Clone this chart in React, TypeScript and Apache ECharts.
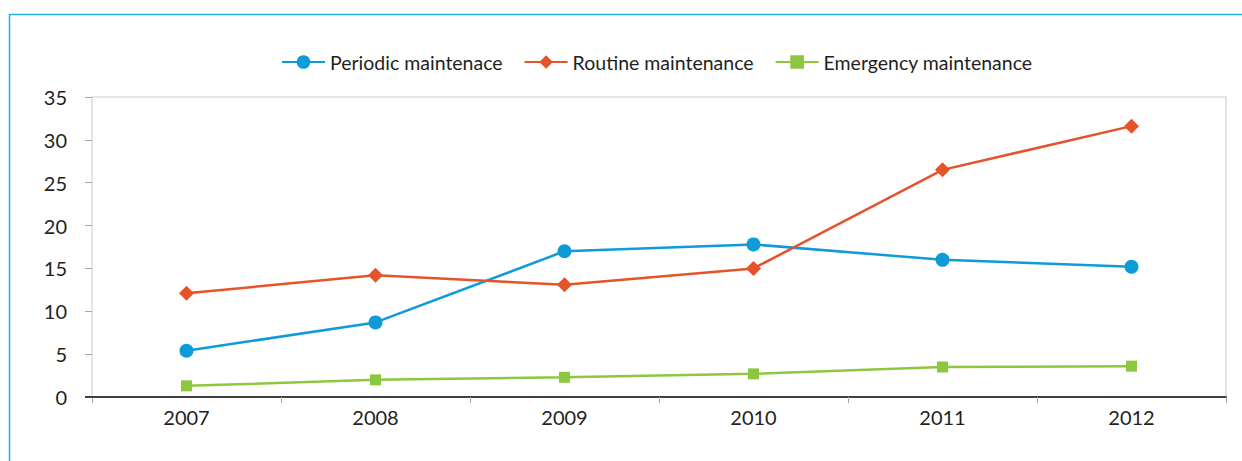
import React, { useEffect, useRef } from "react";
import * as echarts from "echarts";

const years = ["2007", "2008", "2009", "2010", "2011", "2012"];
const periodic = [5.4, 8.7, 17.0, 17.8, 16.0, 15.2];
const routine = [12.1, 14.2, 13.1, 15.0, 26.5, 31.6];
const emergency = [1.3, 2.0, 2.3, 2.7, 3.5, 3.6];
const seriesNames = ["Periodic maintenace", "Routine maintenance", "Emergency maintenance"];

const FONT = "Lato";
const TEXT = "#231f20";

export default function App() {
  const ref = useRef<HTMLDivElement>(null);
  useEffect(() => {
    const chart = echarts.init(ref.current!, null, { renderer: "svg" });
    chart.setOption({
      animation: false,
      textStyle: { fontFamily: FONT },
      graphic: [
        { type: "line", shape: { x1: 9.5, y1: 14, x2: 9.5, y2: 461 }, style: { stroke: "#25b4e0", lineWidth: 1.5 } },
        { type: "line", shape: { x1: 9, y1: 14.5, x2: 1242, y2: 14.5 }, style: { stroke: "#25b4e0", lineWidth: 1.5 } },
        { type: "line", shape: { x1: 85, y1: 397, x2: 93, y2: 397 }, style: { stroke: "#404040", lineWidth: 2 }, z: 100 },
      ],
      legend: {
        top: 47,
        left: 276,
        itemWidth: 43,
        itemHeight: 17,
        itemGap: 21,
        textStyle: { fontFamily: FONT, fontSize: 19.5, color: TEXT },
        data: seriesNames,
      },
      grid: {
        left: 92,
        right: 16,
        top: 97,
        bottom: 64,
        show: true,
        borderColor: "#dcdcdc",
        borderWidth: 1.5,
        containLabel: false,
      },
      xAxis: {
        type: "category",
        data: years,
        boundaryGap: true,
        axisLine: { lineStyle: { color: "#404040", width: 2 } },
        axisTick: { show: true, length: 6, lineStyle: { color: "#a6a6a6" } },
        axisLabel: { fontFamily: FONT, fontSize: 20, color: TEXT, margin: 10 },
        splitLine: { show: false },
      },
      yAxis: {
        type: "value",
        min: 0,
        max: 35,
        interval: 5,
        axisLine: { show: false },
        axisTick: { show: true, length: 7, lineStyle: { color: "#a6a6a6" } },
        axisLabel: { fontFamily: FONT, fontSize: 20, color: TEXT, margin: 25 },
        splitLine: { show: false },
      },
      series: [
        {
          name: seriesNames[0],
          type: "line",
          data: periodic,
          symbol: "circle",
          symbolSize: 14,
          color: "#0e9bd8",
          lineStyle: { width: 2.5, color: "#0e9bd8" },
          itemStyle: { color: "#0e9bd8" },
        },
        {
          name: seriesNames[1],
          type: "line",
          data: routine,
          symbol: "diamond",
          symbolSize: 15,
          color: "#e5532a",
          lineStyle: { width: 2.5, color: "#e5532a" },
          itemStyle: { color: "#e5532a" },
        },
        {
          name: seriesNames[2],
          type: "line",
          data: emergency,
          symbol: "rect",
          symbolSize: 11,
          color: "#8dc63f",
          lineStyle: { width: 2.5, color: "#8dc63f" },
          itemStyle: { color: "#8dc63f" },
        },
      ],
    });
    return () => chart.dispose();
  }, []);
  return (
    <div
      ref={ref}
      style={{ position: "fixed", left: 0, top: 0, width: 1242, height: 461, background: "#fff" }}
    />
  );
}
